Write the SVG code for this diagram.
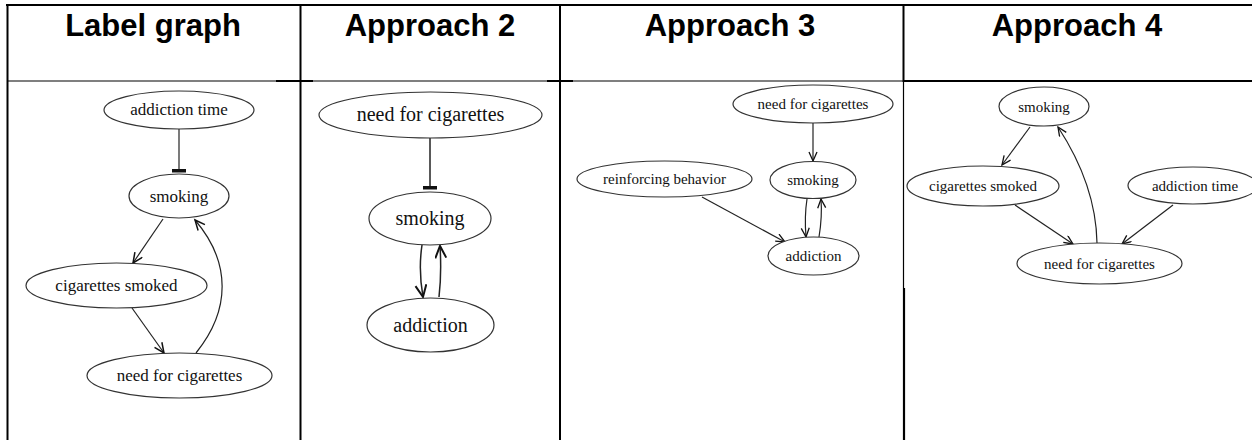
<svg xmlns="http://www.w3.org/2000/svg" width="1252" height="440" viewBox="0 0 1252 440">
<style>
.hdr{font-family:"Liberation Sans",Arial,sans-serif;font-weight:bold;font-size:31px;fill:#000;text-anchor:middle}
.nd{fill:#fff;stroke:#333;stroke-width:1.2}
.t17{font-family:"Liberation Serif","Times New Roman",serif;font-size:17px;fill:#111;text-anchor:middle}
.t20{font-family:"Liberation Serif","Times New Roman",serif;font-size:20px;fill:#111;text-anchor:middle}
.t15{font-family:"Liberation Serif","Times New Roman",serif;font-size:15px;fill:#111;text-anchor:middle}
.e{fill:none;stroke:#222;stroke-width:1.2}
.e2{fill:none;stroke:#222;stroke-width:1.5}
.grid{stroke:#000;fill:none}
</style>
<defs>
<marker id="arr" markerUnits="userSpaceOnUse" markerWidth="14" markerHeight="12" refX="11" refY="5" orient="auto">
<path d="M1,0.5 L11,5 L1,9.5" fill="none" stroke="#111" stroke-width="1.5"/>
</marker>
<marker id="arrL" markerUnits="userSpaceOnUse" markerWidth="16" markerHeight="14" refX="13" refY="6" orient="auto">
<path d="M1,0.5 L13,6 L1,11.5" fill="none" stroke="#111" stroke-width="2"/>
</marker>
<marker id="arrS" markerUnits="userSpaceOnUse" markerWidth="12" markerHeight="10" refX="10" refY="4.5" orient="auto">
<path d="M1,0.5 L10,4.5 L1,8.5" fill="none" stroke="#111" stroke-width="1.3"/>
</marker>
<marker id="tee" markerUnits="userSpaceOnUse" markerWidth="6" markerHeight="16" refX="3" refY="8" orient="auto">
<rect x="0" y="1" width="3.5" height="14" fill="#111"/>
</marker>
</defs>

<g id="table">
<line class="grid" x1="6" y1="5" x2="1252" y2="5" stroke-width="2"/>
<line class="grid" x1="7" y1="81" x2="1252" y2="81" stroke-width="1.2"/>
<line class="grid" x1="276" y1="81" x2="313" y2="81" stroke-width="2"/>
<line class="grid" x1="547" y1="81" x2="573" y2="81" stroke-width="2"/>
<line class="grid" x1="903" y1="81" x2="1252" y2="81" stroke-width="2"/>
<line class="grid" x1="7.5" y1="4" x2="7.5" y2="440" stroke-width="2"/>
<line class="grid" x1="300.5" y1="4" x2="300.5" y2="440" stroke-width="2"/>
<line class="grid" x1="560" y1="4" x2="560" y2="440" stroke-width="2"/>
<line class="grid" x1="903.5" y1="4" x2="903.5" y2="82" stroke-width="2"/>
<line class="grid" x1="903.5" y1="82" x2="903.5" y2="288" stroke-width="1.2"/>
<line class="grid" x1="904" y1="288" x2="904" y2="440" stroke-width="2.2"/>
<text class="hdr" x="153" y="36">Label graph</text>
<text class="hdr" x="430" y="36">Approach 2</text>
<text class="hdr" x="730" y="36">Approach 3</text>
<text class="hdr" x="1077" y="36">Approach 4</text>
</g>

<g id="connectors">
<!-- Label graph -->
<line class="e" x1="179" y1="129" x2="179" y2="172" marker-end="url(#tee)"/>
<line class="e" x1="163" y1="219" x2="133" y2="263" marker-end="url(#arr)"/>
<line class="e" x1="132" y1="308" x2="164" y2="353" marker-end="url(#arr)"/>
<path class="e" d="M196,353 C231,310 231,262 195,220" marker-end="url(#arr)"/>
<!-- Approach 2 -->
<line class="e2" x1="430" y1="138" x2="430" y2="189" marker-end="url(#tee)"/>
<path class="e2" d="M422,245 C419,265 420,280 423,297" marker-end="url(#arrL)"/>
<path class="e2" d="M439,297 C441,280 441,262 440,246" marker-end="url(#arrL)"/>
<!-- Approach 3 -->
<line class="e" x1="813" y1="123" x2="813" y2="161" marker-end="url(#arrS)"/>
<line class="e" x1="702" y1="197" x2="785" y2="242" marker-end="url(#arrS)"/>
<path class="e" d="M807,199 C805,212 805,225 806,237" marker-end="url(#arrS)"/>
<path class="e" d="M819,237 C821,225 822,212 821,199" marker-end="url(#arrS)"/>
<!-- Approach 4 -->
<line class="e" x1="1030" y1="127" x2="1002" y2="165" marker-end="url(#arrS)"/>
<line class="e" x1="1015" y1="205" x2="1073" y2="244" marker-end="url(#arrS)"/>
<line class="e" x1="1173" y1="205" x2="1122" y2="244" marker-end="url(#arrS)"/>
<path class="e" d="M1097,243 Q1096,185 1058,127" marker-end="url(#arrS)"/>
</g>

<g id="lg-addiction-time"><ellipse class="nd" cx="179" cy="110" rx="75" ry="19"/><text class="t17" x="179" y="115">addiction time</text></g>
<g id="lg-smoking"><ellipse class="nd" cx="179" cy="196" rx="50" ry="22"/><text class="t17" x="179" y="202">smoking</text></g>
<g id="lg-cigarettes-smoked"><ellipse class="nd" cx="116.5" cy="285.5" rx="90.5" ry="22.5"/><text class="t17" x="116.5" y="291">cigarettes smoked</text></g>
<g id="lg-need"><ellipse class="nd" cx="179.5" cy="375.5" rx="92.5" ry="22.5"/><text class="t17" x="179.5" y="381">need for cigarettes</text></g>

<g id="a2-need"><ellipse class="nd" cx="430.5" cy="115" rx="111.5" ry="23"/><text class="t20" x="430.5" y="121">need for cigarettes</text></g>
<g id="a2-smoking"><ellipse class="nd" cx="430" cy="218.5" rx="61" ry="26.5"/><text class="t20" x="430" y="225">smoking</text></g>
<g id="a2-addiction"><ellipse class="nd" cx="430.5" cy="325" rx="63.5" ry="27"/><text class="t20" x="430.5" y="332">addiction</text></g>

<g id="a3-need"><ellipse class="nd" cx="813" cy="104" rx="80" ry="19"/><text class="t15" x="813" y="109">need for cigarettes</text></g>
<g id="a3-smoking"><ellipse class="nd" cx="813" cy="180" rx="43" ry="18.5"/><text class="t15" x="813" y="185">smoking</text></g>
<g id="a3-reinforcing"><ellipse class="nd" cx="664.5" cy="179" rx="87.5" ry="18"/><text class="t15" x="664.5" y="184">reinforcing behavior</text></g>
<g id="a3-addiction"><ellipse class="nd" cx="813.5" cy="256" rx="45.5" ry="19"/><text class="t15" x="813.5" y="261">addiction</text></g>

<g id="a4-smoking"><ellipse class="nd" cx="1044" cy="106.5" rx="45" ry="19.5"/><text class="t15" x="1044" y="112">smoking</text></g>
<g id="a4-cigarettes-smoked"><ellipse class="nd" cx="983" cy="186" rx="76" ry="20"/><text class="t15" x="983" y="191">cigarettes smoked</text></g>
<g id="a4-addiction-time"><ellipse class="nd" cx="1193" cy="185.5" rx="65" ry="18.5"/><text class="t15" x="1195" y="191">addiction time</text></g>
<g id="a4-need"><ellipse class="nd" cx="1099.5" cy="263.5" rx="82.5" ry="20.5"/><text class="t15" x="1099.5" y="269">need for cigarettes</text></g>
</svg>
